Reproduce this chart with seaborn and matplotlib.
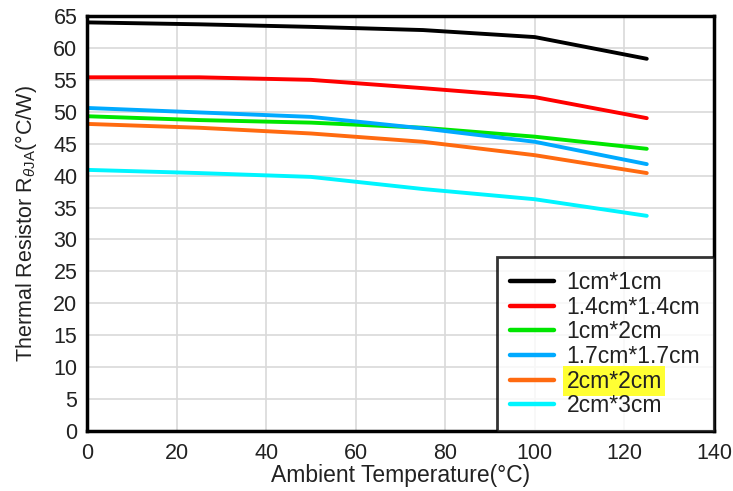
import pandas as pd
import matplotlib
matplotlib.use('Agg')
import matplotlib.pyplot as plt
import seaborn as sns

# Thermal resistance vs ambient temperature for several copper areas
temps = [0, 25, 50, 75, 100, 125]
r_1x1 = [64.0, 63.7, 63.3, 62.8, 61.7, 58.3]
r_14x14 = [55.4, 55.4, 55.0, 53.7, 52.3, 49.0]
r_1x2 = [49.3, 48.7, 48.3, 47.5, 46.1, 44.2]
r_17x17 = [50.6, 49.9, 49.2, 47.4, 45.3, 41.8]
r_2x2 = [48.1, 47.5, 46.6, 45.3, 43.2, 40.4]
r_2x3 = [40.9, 40.4, 39.8, 37.9, 36.3, 33.7]

labels = ['1cm*1cm', '1.4cm*1.4cm', '1cm*2cm', '1.7cm*1.7cm', '2cm*2cm', '2cm*3cm']
series = [r_1x1, r_14x14, r_1x2, r_17x17, r_2x2, r_2x3]
colours = ['#000000', '#ff0000', '#00e600', '#00aaff', '#ff6a10', '#00f5ff']

rows = []
for lab, vals in zip(labels, series):
    for t, v in zip(temps, vals):
        rows.append({'temp': t, 'rth': v, 'size': lab})
df = pd.DataFrame(rows)

sns.set_style('white')
plt.rcParams['font.family'] = ['Liberation Sans', 'DejaVu Sans']
plt.rcParams['mathtext.fontset'] = 'custom'
plt.rcParams['mathtext.rm'] = 'Liberation Sans'
plt.rcParams['mathtext.it'] = 'Liberation Sans:italic'

fs = 15.5
fig = plt.figure(figsize=(7.33, 4.91), dpi=100)
ax = fig.add_axes([0.1187, 0.1222, 0.8553, 0.8452])

sns.lineplot(data=df, x='temp', y='rth', hue='size', hue_order=labels,
             palette=colours, linewidth=2.8, ax=ax)

ax.set_xlim(0, 140)
ax.set_ylim(0, 65)
ax.set_xticks(range(0, 141, 20))
ax.set_yticks(range(0, 66, 5))
ax.grid(True, color='#d9d9d9', linewidth=1.2)
ax.set_axisbelow(True)
for sp in ax.spines.values():
    sp.set_visible(True)
    sp.set_color('black')
    sp.set_linewidth(2.5)
ax.tick_params(labelsize=fs, length=0, colors='#222222')
ax.tick_params(axis='x', pad=9)
ax.tick_params(axis='y', pad=7)
ax.set_xlabel('Ambient Temperature(°C)', fontsize=16.5, color='#222222', labelpad=0)
ax.set_ylabel(r'Thermal Resistor R$_{\theta\mathrm{JA}}$(°C/W)', fontsize=fs,
              color='#222222', labelpad=10)

leg = ax.legend(loc='lower right', bbox_to_anchor=(1.0, 0.0), borderaxespad=0,
                fontsize=16.5, frameon=True, fancybox=False, handlelength=1.9,
                labelspacing=0.07, borderpad=0.6, handletextpad=0.55)
leg.get_frame().set_edgecolor('black')
leg.get_frame().set_linewidth(2.0)
for line in leg.get_lines():
    line.set_linewidth(3.2)
for txt in leg.get_texts():
    txt.set_color('#222222')
    if txt.get_text() == '2cm*2cm':
        txt.set_bbox(dict(facecolor='#ffff33', edgecolor='none', pad=2.5))

plt.savefig('out.png', dpi=100)
